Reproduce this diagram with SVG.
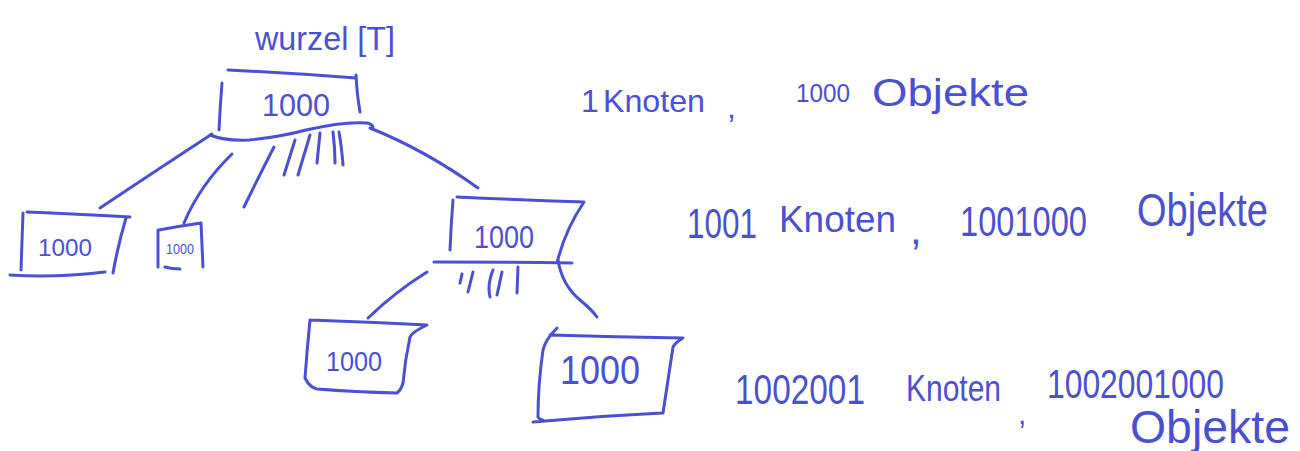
<svg xmlns="http://www.w3.org/2000/svg" width="1300" height="451" viewBox="0 0 1300 451">
  <style>
    .ink { fill: none; stroke: #4b50d2; stroke-width: 3; stroke-linecap: round; stroke-linejoin: round; }
    .hand { fill: #4b50d2; font-family: "Liberation Sans", "DejaVu Sans", sans-serif; }
  </style>
  <rect width="1300" height="451" fill="#ffffff"/>

  <!-- root label -->
  <text class="hand" x="255" y="50" font-size="34" textLength="140" lengthAdjust="spacingAndGlyphs">wurzel [T]</text>

  <!-- root node -->
  <g id="root">
    <path class="ink" d="M228 70 Q290 73 356 78 M356 75 Q357 95 360 112 M222 83 Q220 108 219 130"/>
    <path class="ink" d="M210 135 Q225 141 249 140 Q280 137 306 130 Q345 121 367 123 Q372 124 373 127"/>
    <text class="hand" x="262" y="116" font-size="32" textLength="68" lengthAdjust="spacingAndGlyphs">1000</text>
  </g>

  <!-- left child -->
  <g id="child-left">
    <path class="ink" d="M27 212 Q75 214 130 217 M126 218 Q118 245 113 273 M23 213 Q22 245 21 270 M10 275 Q55 278 105 272"/>
    <text class="hand" x="38" y="256" font-size="24" textLength="54" lengthAdjust="spacingAndGlyphs">1000</text>
  </g>

  <!-- small child -->
  <g id="child-small">
    <path class="ink" d="M159 230 Q180 226 201 223 M158 230 Q158 250 158 267 M201 223 Q202 245 203 267 M165 267 Q172 269 180 269"/>
    <text class="hand" x="166" y="254" font-size="15" textLength="28" lengthAdjust="spacingAndGlyphs">1000</text>
  </g>

  <!-- middle child -->
  <g id="child-middle">
    <path class="ink" d="M457 197 Q520 200 584 202 M453 200 Q451 225 450 250 M584 202 Q565 230 557 263 M434 262 Q503 262 572 263"/>
    <text class="hand" x="474" y="248" font-size="32" textLength="60" lengthAdjust="spacingAndGlyphs">1000</text>
  </g>

  <!-- grandchild left -->
  <g id="grandchild-left">
    <path class="ink" d="M310 320 Q368 322 427 325 Q412 332 410 337 Q405 360 403 383 Q401 390 397 393 M310 320 Q307 350 305 378 Q310 388 317 389 Q355 392 397 393"/>
    <text class="hand" x="326" y="371" font-size="28" textLength="56" lengthAdjust="spacingAndGlyphs">1000</text>
  </g>

  <!-- grandchild right -->
  <g id="grandchild-right">
    <path class="ink" d="M550 335 Q615 337 683 338 Q675 343 673 347 Q668 380 663 413 M557 328 Q545 340 543 350 Q538 385 538 417 Q540 420 543 420 M533 422 Q598 416 662 413"/>
    <text class="hand" x="560" y="384" font-size="40" textLength="80" lengthAdjust="spacingAndGlyphs">1000</text>
  </g>

  <!-- connectors and hatch marks for the omitted children -->
  <g id="connectors">
    <path class="ink" d="M212 134 Q160 168 100 208"/>
    <path class="ink" d="M232 154 Q200 185 184 223"/>
    <path class="ink" d="M274 147 Q258 178 244 207"/>
    <path class="ink" d="M295 140 L284 175 M310 135 L298 175 M320 133 L317 163 M333 132 Q335 148 335 163 M339 132 Q342 150 343 165"/>
    <path class="ink" d="M370 128 Q425 150 478 188"/>
    <path class="ink" d="M462 274 L460 283 M473 272 L468 292 M493 270 Q487 285 490 297 M502 272 L497 295 M518 267 L517 293"/>
    <path class="ink" d="M427 272 Q395 292 368 318"/>
    <path class="ink" d="M558 260 Q562 285 580 300 Q592 310 597 317"/>
  </g>

  <!-- level totals -->
  <g id="level-1">
    <text class="hand" x="581" y="112" font-size="32">1</text>
    <text class="hand" x="603" y="112" font-size="32" textLength="102" lengthAdjust="spacingAndGlyphs">Knoten</text>
    <text class="hand" x="727" y="118" font-size="32">,</text>
    <text class="hand" x="796" y="102" font-size="26" textLength="54" lengthAdjust="spacingAndGlyphs">1000</text>
    <text class="hand" x="872" y="106" font-size="38" textLength="157" lengthAdjust="spacingAndGlyphs">Objekte</text>
  </g>
  <g id="level-2">
    <text class="hand" x="687" y="238" font-size="42" textLength="70" lengthAdjust="spacingAndGlyphs">1001</text>
    <text class="hand" x="779" y="232" font-size="36" textLength="117" lengthAdjust="spacingAndGlyphs">Knoten</text>
    <text class="hand" x="910" y="244" font-size="42">,</text>
    <text class="hand" x="960" y="236" font-size="42" textLength="127" lengthAdjust="spacingAndGlyphs">1001000</text>
    <text class="hand" x="1137" y="226" font-size="46" textLength="131" lengthAdjust="spacingAndGlyphs">Objekte</text>
  </g>
  <g id="level-3">
    <text class="hand" x="735" y="404" font-size="42" textLength="130" lengthAdjust="spacingAndGlyphs">1002001</text>
    <text class="hand" x="906" y="401" font-size="36" textLength="95" lengthAdjust="spacingAndGlyphs">Knoten</text>
    <text class="hand" x="1018" y="424" font-size="30">,</text>
    <text class="hand" x="1047" y="398" font-size="40" textLength="177" lengthAdjust="spacingAndGlyphs">1002001000</text>
    <text class="hand" x="1130" y="443" font-size="46" textLength="160" lengthAdjust="spacingAndGlyphs">Objekte</text>
  </g>
</svg>
